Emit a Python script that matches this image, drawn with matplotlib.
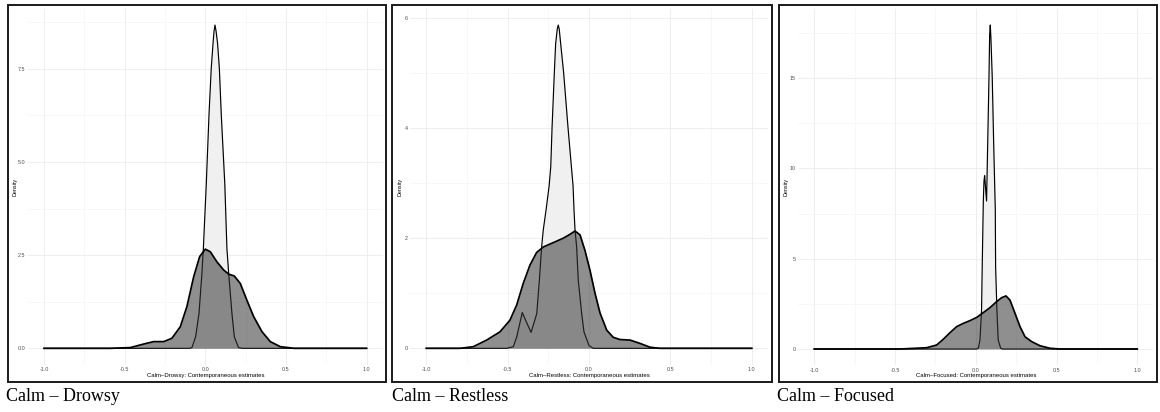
"""
Density plots of contemporaneous estimates, three Calm pairs side by side
"""

import matplotlib
matplotlib.use("Agg")
import matplotlib.pyplot as plt
from matplotlib.patches import Rectangle

W, H = 1160, 412

# ---- values ----
captions = ["Calm – Drowsy", "Calm – Restless", "Calm – Focused"]
xlabels = ["Calm–Drowsy: Contemporaneous estimates",
           "Calm–Restless: Contemporaneous estimates",
           "Calm–Focused: Contemporaneous estimates"]
ytick_vals = [[0, 2.5, 5, 7.5], [0, 2, 4, 6], [0, 5, 10, 15]]
ytick_minor = [[1.25, 3.75, 6.25, 8.75], [1, 3, 5], [2.5, 7.5, 12.5, 17.5]]
ytick_labels = [["0.0", "2.5", "5.0", "7.5"], ["0", "2", "4", "6"], ["0", "5", "10", "15"]]
xtick_vals = [-1.0, -0.5, 0.0, 0.5, 1.0]
xtick_labels = ["-1.0", "-0.5", "0.0", "0.5", "1.0"]

# Calm - Drowsy
drowsy_light_x = [-1.0, -0.10, -0.083, -0.06, -0.039, -0.021, -0.012, 0.006, 0.023, 0.037, 0.048,
                  0.054, 0.060, 0.067, 0.076, 0.087, 0.099, 0.121, 0.134, 0.145, 0.165, 0.18, 0.206, 0.23, 1.0]
drowsy_light_y = [0, 0, 0.02, 0.31, 0.94, 2.01, 2.68, 4.4, 6.27, 7.52, 8.18,
                  8.5, 8.67, 8.5, 8.18, 7.52, 6.27, 4.4, 2.68, 2.01, 0.94, 0.31, 0.02, 0, 0]
drowsy_dark_x = [-1.0, -0.589, -0.465, -0.382, -0.32, -0.258, -0.207, -0.155, -0.114, -0.072, -0.035,
                 0.0, 0.031, 0.072, 0.114, 0.145, 0.18, 0.217, 0.258, 0.30, 0.351, 0.403, 0.465, 0.55, 1.0]
drowsy_dark_y = [0, 0, 0.02, 0.115, 0.18, 0.18, 0.27, 0.58, 1.12, 1.92, 2.46,
                 2.66, 2.59, 2.32, 2.10, 1.99, 1.94, 1.74, 1.29, 0.85, 0.45, 0.18, 0.045, 0, 0]

# Calm - Restless
restless_light_x = [-1.0, -0.506, -0.465, -0.444, -0.41, -0.385, -0.356, -0.321, -0.305, -0.291, -0.281,
                    -0.264, -0.245, -0.235, -0.227, -0.213, -0.205, -0.195, -0.189, -0.183, -0.174, -0.156,
                    -0.129, -0.098, -0.092, -0.086, -0.076, -0.066, -0.045, -0.031, 0.0, 0.026, 1.0]
restless_light_y = [0, 0, 0.03, 0.21, 0.65, 0.48, 0.29, 0.63, 1.24, 1.845, 2.15,
                    2.51, 2.95, 3.3, 4.01, 5.01, 5.53, 5.8, 5.87, 5.8, 5.53, 5.01,
                    4.01, 2.95, 2.51, 2.15, 1.845, 1.24, 0.63, 0.30, 0.05, 0, 0]
restless_dark_x = [-1.0, -0.793, -0.711, -0.629, -0.547, -0.486, -0.444, -0.404, -0.363, -0.322, -0.281,
                   -0.219, -0.158, -0.117, -0.086, -0.055, -0.025, 0.006, 0.037, 0.068, 0.109, 0.149,
                   0.19, 0.252, 0.313, 0.375, 0.436, 1.0]
restless_dark_y = [0, 0, 0.03, 0.15, 0.30, 0.51, 0.79, 1.18, 1.51, 1.74, 1.84,
                   1.92, 2.0, 2.07, 2.13, 2.06, 1.78, 1.42, 1.0, 0.64, 0.33, 0.2,
                   0.16, 0.15, 0.09, 0.02, 0, 0]

# Calm - Focused
focused_light_x = [-1.0, 0.005, 0.016, 0.026, 0.036, 0.04, 0.047, 0.051, 0.055, 0.061, 0.067, 0.074,
                   0.082, 0.086, 0.090, 0.094, 0.102, 0.111, 0.121, 0.123, 0.131, 0.139, 0.154, 0.165, 1.0]
focused_light_y = [0, 0, 0.05, 0.5, 2.16, 4.56, 8.25, 9.3, 9.6, 8.9, 8.2, 11.4,
                   15.09, 17.4, 17.95, 17.2, 15.09, 11.4, 7.7, 4.56, 2.16, 0.5, 0.05, 0, 0]
focused_dark_x = [-1.0, -0.469, -0.304, -0.242, -0.201, -0.16, -0.118, -0.077, -0.036, 0.006, 0.046,
                  0.088, 0.129, 0.16, 0.187, 0.212, 0.243, 0.274, 0.305, 0.346, 0.398, 0.46, 0.52, 1.0]
focused_dark_y = [0, 0, 0.07, 0.22, 0.54, 0.9, 1.24, 1.42, 1.57, 1.75, 2.01,
                  2.29, 2.62, 2.84, 2.94, 2.71, 1.98, 1.24, 0.68, 0.41, 0.18, 0.04, 0, 0]

light_x = [drowsy_light_x, restless_light_x, focused_light_x]
light_y = [drowsy_light_y, restless_light_y, focused_light_y]
dark_x = [drowsy_dark_x, restless_dark_x, focused_dark_x]
dark_y = [drowsy_dark_y, restless_dark_y, focused_dark_y]

# ---- layout (pixels) ----
axes_px = [(27.9, 8.9, 382.7, 364.5), (410.0, 8.9, 768.0, 364.5), (798.1, 8.8, 1153.4, 365.2)]
boxes_px = [(8, 5, 386, 382), (392.3, 5, 771.7, 382), (779.3, 5, 1157.3, 382)]
ylabel_px = [15, 400, 786]
caption_x = [6, 392, 777]

fig = plt.figure(figsize=(W / 100, H / 100), dpi=100)
fig.patch.set_facecolor("white")

for i in range(3):
    l, t, r, b = axes_px[i]
    ax = fig.add_axes([l / W, 1 - b / H, (r - l) / W, (b - t) / H])
    ax.set_facecolor("white")

    ax.fill_between(light_x[i], light_y[i], 0, color="#f0f0f0", lw=0, zorder=2)
    ax.plot(light_x[i], light_y[i], color="black", lw=0.85, zorder=3, solid_joinstyle="round")
    ax.fill_between(dark_x[i], dark_y[i], 0, color="#333333", alpha=0.55, lw=0, zorder=4)
    ax.plot(dark_x[i], dark_y[i], color="black", lw=1.25, zorder=5, solid_joinstyle="round")

    top = max(max(light_y[i]), max(dark_y[i]))
    ax.set_xlim(-1.1, 1.1)
    ax.set_ylim(-0.05 * top, 1.05 * top)

    ax.set_xticks(xtick_vals)
    ax.set_xticklabels(xtick_labels)
    ax.set_xticks([-0.75, -0.25, 0.25, 0.75], minor=True)
    ax.set_yticks(ytick_vals[i])
    ax.set_yticklabels(ytick_labels[i])
    ax.set_yticks(ytick_minor[i], minor=True)

    ax.grid(True, which="major", color="#ebebeb", lw=0.6, zorder=0)
    ax.grid(True, which="minor", color="#f2f2f2", lw=0.4, zorder=0)
    ax.set_axisbelow(True)
    ax.tick_params(which="both", length=0, labelsize=3.9, labelcolor="#4d4d4d", pad=1.8)
    for s in ax.spines.values():
        s.set_visible(False)

    ax.set_xlabel(xlabels[i], fontsize=4.3, va="center", family="Liberation Sans")
    ax.xaxis.set_label_coords(0.5, -(376 - b) / (b - t))
    ax.set_ylabel("Density", fontsize=3.9, va="center", family="Liberation Sans")
    ax.yaxis.set_label_coords(-(l - ylabel_px[i]) / (r - l), 0.5)
    for lab in ax.get_xticklabels() + ax.get_yticklabels():
        lab.set_family("Liberation Sans")

    bl, bt, br, bb = boxes_px[i]
    fig.add_artist(Rectangle((bl / W, 1 - bb / H), (br - bl) / W, (bb - bt) / H,
                             transform=fig.transFigure, fill=False, ec="#1a1a1a", lw=1.4))
    fig.text(caption_x[i] / W, 1 - 401 / H, captions[i], fontsize=13,
             family="Liberation Serif", va="baseline", ha="left")

fig.savefig("out.png", dpi=100, facecolor="white")
